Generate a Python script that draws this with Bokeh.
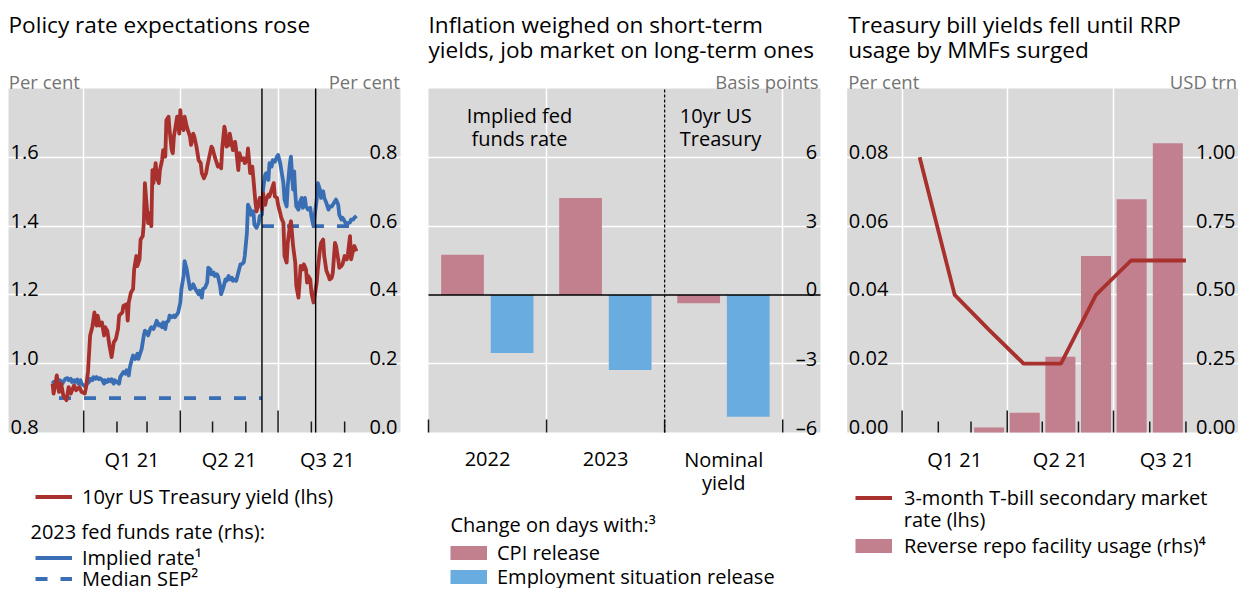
import numpy as np
import pandas as pd
from bokeh.plotting import figure
from bokeh.models import Range1d, FixedTicker, Label, Legend, LegendItem
from bokeh.layouts import row
from bokeh.embed import file_html
from bokeh.resources import INLINE

# ---------------------------------------------------------------- data
# Panel 1: days counted from 2021-01-01
ust10_day = [-29, -28, -26, -25, -23, -21, -19, -16, -14, -12,
             -9, -7, -4, -2, 1, 2, 4, 6, 8, 10,
             12, 13, 15, 17, 19, 20, 22, 24, 26, 28,
             30, 32, 33, 36, 37, 40, 41, 42, 44, 46,
             47, 49, 50, 52, 53, 55, 56, 57, 59, 60,
             61, 63, 64, 65, 67, 68, 70, 71, 73, 74,
             76, 77, 79, 80, 82, 83, 84, 86, 87, 89,
             90, 91, 93, 94, 96, 97, 99, 100, 102, 103,
             105, 106, 107, 109, 110, 112, 114, 115, 117, 119,
             120, 122, 123, 125, 126, 128, 129, 131, 132, 133,
             135, 136, 138, 139, 141, 142, 144, 145, 147, 149,
             150, 152, 153, 154, 155, 157, 158, 160, 161, 162,
             164, 166, 167, 169, 170, 172, 173, 175, 177, 178,
             180, 181, 183, 184, 186, 187, 189, 190, 192, 193,
             195, 197, 198, 200, 201, 202, 204, 205, 207, 208,
             209, 211, 212, 214, 215, 217, 218, 220, 221, 223,
             224, 226, 228, 229, 231, 232, 234, 235, 237, 238,
             240, 241, 243, 245, 246, 248, 249, 251, 252, 254]
ust10_yield = [0.942, 0.913, 0.947, 0.966, 0.918, 0.942, 0.908, 0.894, 0.932, 0.913,
               0.937, 0.923, 0.932, 0.918, 0.913, 0.928, 0.976, 1.082, 1.106, 1.149,
               1.111, 1.140, 1.111, 1.120, 1.082, 1.106, 1.096, 1.053, 1.019, 1.062,
               1.072, 1.101, 1.140, 1.149, 1.168, 1.173, 1.125, 1.178, 1.207, 1.217,
               1.274, 1.313, 1.284, 1.303, 1.361, 1.371, 1.409, 1.525, 1.448, 1.409,
               1.438, 1.400, 1.563, 1.525, 1.583, 1.544, 1.525, 1.563, 1.592, 1.621,
               1.602, 1.708, 1.718, 1.679, 1.621, 1.612, 1.660, 1.698, 1.718, 1.669,
               1.737, 1.698, 1.679, 1.718, 1.689, 1.679, 1.660, 1.636, 1.669, 1.660,
               1.631, 1.612, 1.592, 1.583, 1.554, 1.539, 1.554, 1.573, 1.602, 1.631,
               1.626, 1.602, 1.592, 1.573, 1.578, 1.568, 1.626, 1.689, 1.674, 1.631,
               1.636, 1.669, 1.636, 1.621, 1.645, 1.621, 1.563, 1.612, 1.592, 1.597,
               1.583, 1.592, 1.626, 1.592, 1.554, 1.573, 1.539, 1.467, 1.443, 1.457,
               1.482, 1.448, 1.496, 1.462, 1.477, 1.491, 1.486, 1.506, 1.525, 1.486,
               1.482, 1.462, 1.438, 1.424, 1.409, 1.313, 1.294, 1.351, 1.400, 1.414,
               1.342, 1.294, 1.226, 1.192, 1.236, 1.284, 1.274, 1.289, 1.274, 1.236,
               1.255, 1.245, 1.207, 1.178, 1.197, 1.236, 1.274, 1.332, 1.351, 1.361,
               1.313, 1.270, 1.255, 1.245, 1.250, 1.265, 1.351, 1.342, 1.303, 1.279,
               1.284, 1.289, 1.313, 1.303, 1.318, 1.371, 1.303, 1.332, 1.342, 1.327]

implied_day = [-29, -28, -26, -25, -23, -22, -20, -19, -17, -15,
               -14, -12, -11, -9, -8, -6, -5, -3, -2, 0,
               2, 3, 5, 6, 8, 9, 11, 12, 14, 15,
               17, 19, 20, 22, 23, 25, 26, 28, 29, 31,
               33, 34, 36, 37, 39, 40, 42, 43, 45, 46,
               48, 50, 51, 53, 54, 56, 57, 59, 60, 62,
               63, 65, 67, 68, 70, 71, 73, 74, 76, 77,
               79, 80, 82, 84, 85, 87, 88, 90, 91, 93,
               94, 96, 98, 99, 101, 102, 104, 105, 107, 108,
               110, 111, 113, 115, 116, 118, 119, 121, 122, 124,
               125, 127, 128, 130, 132, 133, 135, 136, 138, 139,
               141, 142, 144, 146, 147, 149, 150, 152, 153, 155,
               156, 158, 159, 161, 163, 164, 166, 167, 169, 170,
               172, 173, 175, 176, 178, 180, 181, 183, 184, 186,
               187, 189, 190, 192, 193, 194, 195, 196, 197, 198,
               200, 201, 203, 204, 206, 207, 209, 211, 212, 214,
               215, 217, 218, 220, 221, 223, 224, 226, 228, 229,
               231, 232, 234, 235, 237, 238, 240, 241, 243, 245,
               246, 248, 249, 251, 252, 254]
implied_rate = [0.142, 0.147, 0.137, 0.147, 0.142, 0.152, 0.142, 0.147, 0.156, 0.158,
                0.152, 0.156, 0.147, 0.152, 0.147, 0.154, 0.142, 0.152, 0.142, 0.137,
                0.132, 0.142, 0.147, 0.156, 0.152, 0.161, 0.156, 0.161, 0.155, 0.158,
                0.154, 0.142, 0.152, 0.147, 0.154, 0.149, 0.155, 0.142, 0.152, 0.147,
                0.142, 0.161, 0.171, 0.176, 0.171, 0.181, 0.166, 0.190, 0.214, 0.224,
                0.214, 0.229, 0.214, 0.234, 0.243, 0.282, 0.296, 0.291, 0.282, 0.301,
                0.306, 0.301, 0.315, 0.325, 0.311, 0.315, 0.306, 0.320, 0.301, 0.320,
                0.325, 0.340, 0.335, 0.340, 0.335, 0.344, 0.349, 0.378, 0.417, 0.455,
                0.498, 0.474, 0.436, 0.417, 0.421, 0.431, 0.417, 0.412, 0.402, 0.412,
                0.392, 0.417, 0.421, 0.436, 0.479, 0.474, 0.460, 0.465, 0.455, 0.460,
                0.455, 0.426, 0.402, 0.421, 0.445, 0.441, 0.455, 0.445, 0.450, 0.441,
                0.445, 0.441, 0.465, 0.489, 0.489, 0.494, 0.513, 0.580, 0.662, 0.648,
                0.633, 0.643, 0.604, 0.595, 0.609, 0.629, 0.633, 0.706, 0.749, 0.754,
                0.734, 0.783, 0.773, 0.792, 0.787, 0.802, 0.807, 0.783, 0.763, 0.725,
                0.677, 0.657, 0.715, 0.783, 0.802, 0.749, 0.706, 0.759, 0.696, 0.657,
                0.648, 0.667, 0.682, 0.653, 0.682, 0.657, 0.648, 0.653, 0.629, 0.600,
                0.629, 0.677, 0.725, 0.706, 0.682, 0.701, 0.682, 0.667, 0.648, 0.657,
                0.657, 0.662, 0.672, 0.677, 0.662, 0.633, 0.619, 0.624, 0.614, 0.600,
                0.609, 0.611, 0.619, 0.619, 0.624, 0.630]

sep_start = ["2020-12-09", "2021-06-16"]
sep_end = ["2021-06-16", "2021-09-12"]
sep_median = [0.1, 0.6]
event_lines = ["2021-06-16", "2021-08-05"]

p1_left_ticks = [0.8, 1.0, 1.2, 1.4, 1.6]
p1_right_ticks = [0.0, 0.2, 0.4, 0.6, 0.8]
quarter_starts = ["2021-01-01", "2021-04-01", "2021-07-01", "2021-10-01"]
quarter_labels = ["Q1 21", "Q2 21", "Q3 21"]
month_starts = ["2021-02-01", "2021-03-01", "2021-05-01", "2021-06-01", "2021-08-01", "2021-09-01"]

# Panel 2
p2_groups = ["2022", "2023", "Nominal\nyield"]
cpi_change = [1.75, 4.22, -0.36]
emp_change = [-2.53, -3.27, -5.31]
p2_ticks = [-6, -3, 0, 3, 6]
p2_tick_labels = ["\u20136", "\u20133", "0", "3", "6"]

# Panel 3
tbill_date = ["2021-01-16", "2021-02-15", "2021-03-16", "2021-04-15", "2021-05-17",
              "2021-06-16", "2021-07-16", "2021-09-01"]
tbill_rate = [0.08, 0.04, 0.03, 0.02, 0.02, 0.04, 0.05, 0.05]
rrp_month = ["2021-03-01", "2021-04-01", "2021-05-01", "2021-06-01", "2021-07-01", "2021-08-01"]
rrp_usage = [0.018, 0.072, 0.275, 0.641, 0.848, 1.051]
p3_left_ticks = [0.0, 0.02, 0.04, 0.06, 0.08]
p3_right_ticks = [0.0, 0.25, 0.50, 0.75, 1.00]

# ---------------------------------------------------------------- style
FONT = "Open Sans"
BG = "#d9d9d9"
RED = "#a8312e"
BLUE = "#3a6eb4"
PINK = "#c27f8e"
LBLUE = "#69ade0"
GREY = "#737373"
TICK = "#1a1a1a"
LW = 3.8
PAGE_H = 596          # page coordinates (top-down); canvas bottom sits at PAGE_H
FIG_H = 588
BOX_B, BOX_T = PAGE_H - 440, PAGE_H - 96   # plot box, pixels from canvas bottom
LEG_H = 27
LEG_SHIFT = 8


def up(page_y):
    return PAGE_H - page_y


def ms(d):
    return pd.Timestamp(d).value / 1e6


BASE = pd.Timestamp("2021-01-01")


def days_to_ms(days):
    return [(BASE + pd.Timedelta(days=d)).value / 1e6 for d in days]


def ext(d0, d1, p0, p1, total):
    s = (d1 - d0) / (p1 - p0)
    return Range1d(d0 - p0 * s, d1 + (total - p1) * s)


def txt(p, s, x, y, xu="screen", yu="screen", align="left", size="20px",
        color="black", yr="default", yo=0):
    p.add_layout(Label(x=x, y=y, x_units=xu, y_units=yu, text=s,
                       text_align=align, text_baseline="alphabetic",
                       text_font=FONT, text_font_size=size, text_color=color,
                       y_range_name=yr, y_offset=yo))


def leg(p, label, renderer, x, yc, standoff=10):
    lg = Legend(items=[LegendItem(label=label, renderers=[renderer])],
                location=(x, yc - LEG_H / 2 - LEG_SHIFT), glyph_width=37,
                glyph_height=LEG_H, label_height=LEG_H, label_standoff=standoff,
                padding=0, margin=0, spacing=0, border_line_color=None,
                background_fill_alpha=0, label_text_font=FONT,
                label_text_font_size="20px", label_text_color="black")
    p.add_layout(lg)


def swatch(p, color):
    return p.line(x=np.array([np.nan]), y=np.array([np.nan]), line_color=color,
                  line_width=14, line_cap="butt")


class Panel:
    def __init__(self, width, box_l, box_r, x0, x1, y0, y1):
        self.x0, self.x1, self.y0, self.y1 = x0, x1, y0, y1
        self.ypp = (y1 - y0) / (BOX_T - BOX_B)
        self.p = figure(width=width, height=FIG_H,
                        x_range=ext(x0, x1, box_l, box_r, width),
                        y_range=ext(y0, y1, BOX_B, BOX_T, FIG_H),
                        x_axis_location=None, y_axis_location=None,
                        toolbar_location=None, output_backend="svg",
                        min_border=0, min_border_left=0, min_border_right=0,
                        min_border_top=0, min_border_bottom=0,
                        background_fill_color="white", border_fill_color="white",
                        outline_line_color=None)
        p = self.p
        p.quad(left=[x0], right=[x1], bottom=[y0], top=[y1], fill_color=BG,
               line_color=None, level="image")
        for g in (p.xgrid, p.ygrid):
            g.grid_line_color = "white"
            g.grid_line_width = 1.5
        p.xgrid.bounds = (y0, y1)
        p.ygrid.bounds = (x0, x1)

    def right_range(self, r0, r1):
        self.p.extra_y_ranges = {"right": ext(r0, r1, BOX_B, BOX_T, FIG_H)}

    def ticks(self, xs, length_px):
        self.p.segment(x0=xs, x1=xs, y0=[self.y0] * len(xs),
                       y1=[self.y0 + length_px * self.ypp] * len(xs),
                       line_color=TICK, line_width=1.5)

    def vlines(self, xs, **kw):
        self.p.segment(x0=xs, x1=xs, y0=[self.y0] * len(xs), y1=[self.y1] * len(xs), **kw)


q_ms = [ms(q) for q in quarter_starts]
q_mid = [(q_ms[i] + q_ms[i + 1]) / 2 for i in range(len(quarter_labels))]
m_ms = [ms(m) for m in month_starts]

# ================================================================ panel 1
P1 = Panel(420, 8, 400, ms("2020-10-23"), ms("2021-10-23"), 0.8, 1.8)
P1.right_range(0.0, 1.0)
p1 = P1.p
p1.xgrid.ticker = FixedTicker(ticks=q_ms[:3])
p1.ygrid.ticker = FixedTicker(ticks=p1_left_ticks[1:])
P1.ticks(q_ms[:3], 22)
P1.ticks(m_ms, 11)

r_sep = p1.segment(x0=[ms(d) for d in sep_start], y0=sep_median,
                   x1=[ms(d) for d in sep_end], y1=sep_median,
                   line_color=BLUE, line_width=LW, line_dash="12 13",
                   y_range_name="right")
r_imp = p1.line(days_to_ms(implied_day), implied_rate, line_color=BLUE,
                line_width=LW, line_join="round", y_range_name="right")
r_ust = p1.line(days_to_ms(ust10_day), ust10_yield, line_color=RED,
                line_width=LW, line_join="round")
P1.vlines([ms(d) for d in event_lines], line_color="black", line_width=1.4)

for v in p1_left_ticks:
    txt(p1, f"{v:.1f}", 10, v, yu="data", yo=5.5)
for v in p1_right_ticks:
    txt(p1, f"{v:.1f}", 397, v, yu="data", align="right", yr="right", yo=5.5)
for xm, lab in zip(q_mid, quarter_labels):
    txt(p1, lab, xm, up(467.3), xu="data", align="center")

txt(p1, "Policy rate expectations rose", 8, up(31.7), size="22.6px")
txt(p1, "Per cent", 8.3, up(89.3), size="18.5px", color=GREY)
txt(p1, "Per cent", 399.3, up(89.3), align="right", size="18.5px", color=GREY)

leg(p1, "10yr US Treasury yield (lhs)", r_ust, 35, up(496))
txt(p1, "2023 fed funds rate (rhs):", 30, up(538.5))
leg(p1, "Implied rate\u00b9", r_imp, 35, up(557))
leg(p1, "Median SEP\u00b2", r_sep, 35, up(578))

# ================================================================ panel 2
P2 = Panel(410, 8, 400, -0.5, 2.82, -6, 9)
p2 = P2.p
idx = list(range(len(p2_groups)))
p2.xgrid.ticker = FixedTicker(ticks=[0.5, 2.5])
p2.ygrid.ticker = FixedTicker(ticks=[-3, 3, 6])
P2.ticks([i - 0.5 for i in idx] + [idx[-1] + 0.5], 13)

r_cpi = p2.vbar(x=[i - 0.212 for i in idx], top=cpi_change, bottom=0, width=0.362,
                fill_color=PINK, line_color=None)
r_emp = p2.vbar(x=[i + 0.208 for i in idx], top=emp_change, bottom=0, width=0.362,
                fill_color=LBLUE, line_color=None)
p2.segment(x0=[P2.x0], x1=[P2.x1], y0=[0], y1=[0], line_color="black", line_width=1.5)
P2.vlines([1.5], line_color="black", line_width=1.2, line_dash="3 2")

for v, lab in zip(p2_ticks, p2_tick_labels):
    txt(p2, lab, 396.7, v, yu="data", align="right", yo=5.5)
for i, g in zip(idx, p2_groups):
    for k, line in enumerate(g.split("\n")):
        txt(p2, line, i, up(466.7 + 23.3 * k), xu="data", align="center")

txt(p2, "Inflation weighed on short-term", 8, up(31.7), size="22.6px")
txt(p2, "yields, job market on long-term ones", 8, up(56.7), size="22.6px")
txt(p2, "Basis points", 398, up(89.3), align="right", size="18.5px", color=GREY)
txt(p2, "Implied fed", 99, up(123.3), align="center")
txt(p2, "funds rate", 99, up(146), align="center")
txt(p2, "10yr US", 259.3, up(123.3))
txt(p2, "Treasury", 259.3, up(146))

sw_cpi = swatch(p2, PINK)
sw_emp = swatch(p2, LBLUE)
txt(p2, "Change on days with:\u00b3", 30, up(532))
leg(p2, "CPI release", sw_cpi, 30, up(552))
leg(p2, "Employment situation release", sw_emp, 30, up(576))

# ================================================================ panel 3
P3 = Panel(408, 16.7, 408, ms("2020-11-15"), ms("2021-10-16"), 0.0, 0.1)
P3.right_range(0.0, 1.25)
p3 = P3.p
p3.xgrid.ticker = FixedTicker(ticks=q_ms[:3])
p3.ygrid.ticker = FixedTicker(ticks=p3_left_ticks[1:])

bar_mid = []
for m in rrp_month:
    t0 = pd.Timestamp(m)
    t1 = t0 + pd.offsets.MonthBegin(1)
    bar_mid.append((t0.value + (t1.value - t0.value) / 2) / 1e6)
r_rrp = p3.vbar(x=bar_mid, top=rrp_usage, bottom=0, width=25.7 * 86400000,
                fill_color=PINK, line_color=None, y_range_name="right")
P3.ticks(q_ms[:3], 22)
P3.ticks(m_ms, 11)
r_tb = p3.line([ms(d) for d in tbill_date], tbill_rate, line_color=RED, line_width=LW)

for v in p3_left_ticks:
    txt(p3, f"{v:.2f}", 18.3, v, yu="data", yo=5.5)
for v in p3_right_ticks:
    txt(p3, f"{v:.2f}", 405, v, yu="data", align="right", yr="right", yo=5.5)
for xm, lab in zip(q_mid, quarter_labels):
    txt(p3, lab, xm, up(467.3), xu="data", align="center")

txt(p3, "Treasury bill yields fell until RRP", 17.7, up(31.7), size="22.6px")
txt(p3, "usage by MMFs surged", 17.7, up(56.7), size="22.6px")
txt(p3, "Per cent", 17.7, up(89.3), size="18.5px", color=GREY)
txt(p3, "USD trn", 406.7, up(89.3), align="right", size="18.5px", color=GREY)

sw_rrp = swatch(p3, PINK)
leg(p3, "3-month T-bill secondary market", r_tb, 25, up(497.7), standoff=12)
txt(p3, "rate (lhs)", 73.3, up(527.3))
leg(p3, "Reverse repo facility usage (rhs)\u2074", sw_rrp, 25, up(545.3), standoff=12)

layout = row(p1, p2, p3)
open("out.html", "w").write(file_html(layout, INLINE))
